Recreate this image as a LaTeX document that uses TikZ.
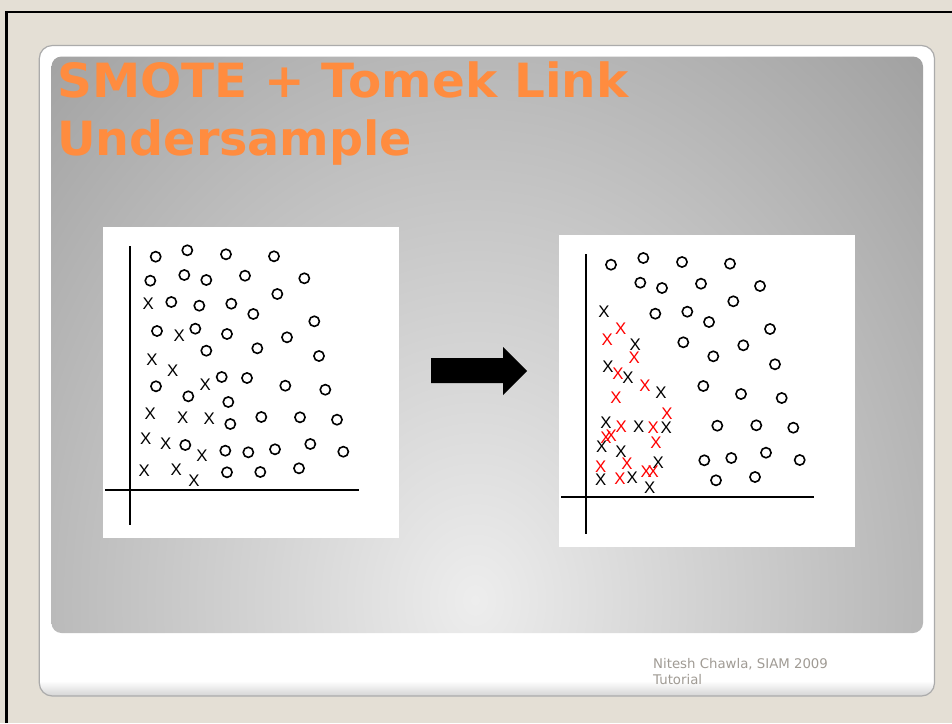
\documentclass[tikz,border=0pt]{standalone}
\usepackage{fontspec}
\usepackage{graphicx}
\setmainfont{DejaVu Sans}
\newfontfamily\markfont{Liberation Sans}
\definecolor{slidebg}{HTML}{E4DFD5}
\definecolor{cardedge}{HTML}{ABABAB}
\definecolor{titleorange}{HTML}{FF8C3F}
\definecolor{footgray}{HTML}{A09B94}
\definecolor{panellight}{HTML}{EDEDED}
\definecolor{paneldark}{HTML}{A0A0A0}
\definecolor{synthred}{HTML}{FF0000}
\tikzset{
  plotbox/.style={fill=white, inner sep=0pt, anchor=north west},
  axisline/.style={line width=2pt, black},
  omark/.style={circle, draw=black, line width=1.6pt, minimum size=10.2pt, inner sep=0pt},
  xmark/.style={inner sep=0pt, font=\markfont\fontsize{16.8}{16.8}\selectfont},
  redmark/.style={xmark, text=synthred},
  titletext/.style={anchor=base west, inner sep=0pt, text=titleorange},
  foottext/.style={anchor=base west, inner sep=0pt, text=footgray, font=\fontsize{13.3}{16}\selectfont},
}
\begin{document}
\begin{tikzpicture}[x=1pt,y=-1pt]
\useasboundingbox (0,0) rectangle (952,723);
% slide background and frame
\fill[slidebg] (0,0) rectangle (952,723);
\draw[black, line width=2.3pt] (6.5,723) -- (6.5,12) -- (952,12);

% white card with a soft bottom edge
\begin{scope}
  \clip[rounded corners=13pt] (39.3,45.5) rectangle (934.5,696);
  \fill[white] (0,0) rectangle (952,723);
  \shade[top color=white, bottom color=black!18] (30,681) rectangle (945,697);
\end{scope}
\draw[cardedge, line width=1.2pt, rounded corners=13pt] (39.3,45.5) rectangle (934.5,696);

% gray content panel
\begin{scope}
  \clip[rounded corners=10pt] (51.5,56.5) rectangle (923,633);
  \shade[inner color=panellight, outer color=paneldark] (475,600) ellipse [x radius=640pt, y radius=780pt];
\end{scope}

% title
\node[titletext] (title1) at (57,97.7) {\resizebox{571pt}{35.8pt}{\bfseries SMOTE + Tomek Link}};
\node[titletext] (title2) at (57,155.5) {\resizebox{355pt}{35.8pt}{\bfseries Undersample}};

% plot panels
\node[plotbox, minimum width=296pt, minimum height=311pt] (leftplot) at (103,227) {};
\node[plotbox, minimum width=296pt, minimum height=312pt] (rightplot) at (559,235) {};

% left plot: original data
\draw[axisline] (130,246) -- (130,525);
\draw[axisline] (105,490) -- (359,490);
\foreach \x/\y [count=\i] in {155.7/256.7, 187.3/250.3, 226/254.3, 274/256.3,
  150.3/280.7, 184.3/275, 206.3/280, 245/275.7, 304.3/278.3,
  171.3/302, 199.3/305.7, 231.3/303.7, 253.3/314, 277.3/294,
  157/331, 195.3/328.7, 227/334, 287/337.3, 314.3/321.3,
  206.3/350.7, 257.3/348.3, 319/356,
  156/386.3, 221.7/377, 247/378, 285.3/385.7, 325.3/389.7, 188.3/396.3, 228.3/402,
  230.3/424, 261.3/417, 300/417.3, 337/419.7,
  185.3/445, 225.3/450.7, 248.3/452.3, 275/449.3, 310.3/444, 343.3/451.7,
  227/472.3, 260.3/472, 299/468.3}
  \node[omark] (lo\i) at (\x,\y) {};
\foreach \x/\y [count=\i] in {148.3/304, 179.3/336, 152/359.3, 172.7/370.3, 205.3/385,
  150.3/414, 182.7/418, 209.3/418.7, 145.7/438.3, 165.7/443.3, 202/455.3,
  144.3/471, 176.3/469.3, 194/480.3}
  \node[xmark] (lx\i) at (\x,\y) {X};

% block arrow between the panels
\fill[black] (431,358) -- (503,358) -- (503,347) -- (527,371) -- (503,395) -- (503,383) -- (431,383) -- cycle;

% right plot: after SMOTE and Tomek link cleaning
\draw[axisline] (586,254) -- (586,534);
\draw[axisline] (561,497) -- (814,497);
\foreach \x/\y [count=\i] in {611/264.7, 643.3/258, 682/262, 730/263.7,
  640.3/282.7, 662/288, 701/283.7, 760/286, 733.3/301.3,
  655.3/313.7, 687.3/311.7, 709/322, 770/329,
  683.3/342.3, 743.3/345.3, 713.3/356.3, 775/364.3,
  703.3/386, 741/394, 781.7/398,
  717.3/425.7, 756.3/425.3, 793.3/427.7,
  704.3/460.3, 731.3/458, 766/452.7, 799.7/460,
  716/480.3, 755/477}
  \node[omark] (ro\i) at (\x,\y) {};
\foreach \x/\y [count=\i] in {604/312, 635.3/344.3, 608/367, 628/378, 661/393,
  606/422.7, 638.7/427, 666.3/427.3, 601.7/446.3, 621/451.7, 658.3/463,
  600.7/479.3, 632.3/477.3, 649.7/487.3}
  \node[xmark] (rx\i) at (\x,\y) {X};
\foreach \x/\y [count=\i] in {620.7/328.3, 607.3/339.7, 634.3/357.3, 618/374, 645/386,
  616/398, 667/413.7, 621.3/426.7, 653.3/427.7, 656/442.3, 606/437.7, 611.3/436,
  600.7/466.3, 627/463.7, 620/478.7, 646.3/471.7, 653.3/471.7}
  \node[redmark] (rs\i) at (\x,\y) {X};

% footer
\node[foottext] (foot1) at (653,668) {Nitesh Chawla, SIAM 2009};
\node[foottext] (foot2) at (653,684) {Tutorial};
\end{tikzpicture}
\end{document}
